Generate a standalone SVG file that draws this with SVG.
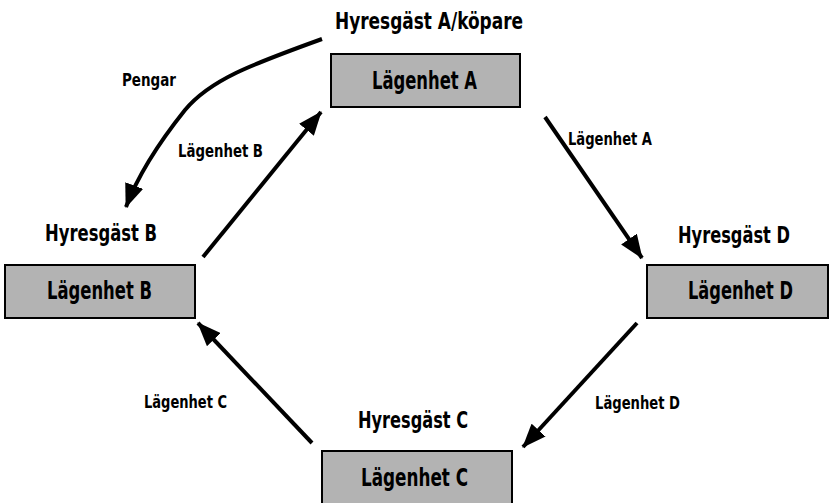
<svg xmlns="http://www.w3.org/2000/svg" width="833" height="503" viewBox="0 0 833 503">
<defs>
<style>
text{font-family:"DejaVu Sans Condensed","DejaVu Sans",sans-serif;font-weight:bold;fill:#000;font-stretch:condensed}
.t{font-size:23px}
.b{font-size:24px}
.s{font-size:17px}
.box{fill:#b3b3b3;stroke:#000;stroke-width:2}
.ln{fill:none;stroke:#000;stroke-width:4;marker-end:url(#ah)}
</style>
<marker id="ah" markerUnits="userSpaceOnUse" markerWidth="24" markerHeight="19" refX="23" refY="9.5" orient="auto" viewBox="0 0 24 19">
<path d="M0,0 L24,9.5 L0,19 z" fill="#000"/>
</marker>
</defs>
<rect width="833" height="503" fill="#fff"/>
<g id="nodeA">
<text class="t" x="335" y="29" textLength="188" lengthAdjust="spacingAndGlyphs">Hyresgäst A/köpare</text>
<rect class="box" x="331" y="54" width="189" height="53"/>
<text class="b" x="372" y="89" textLength="105" lengthAdjust="spacingAndGlyphs">Lägenhet A</text>
</g>
<g id="nodeB">
<text class="t" x="45" y="241" textLength="112" lengthAdjust="spacingAndGlyphs">Hyresgäst B</text>
<rect class="box" x="5" y="265" width="190" height="53"/>
<text class="b" x="47" y="299" textLength="105" lengthAdjust="spacingAndGlyphs">Lägenhet B</text>
</g>
<g id="nodeD">
<text class="t" x="678" y="243" textLength="112" lengthAdjust="spacingAndGlyphs">Hyresgäst D</text>
<rect class="box" x="647" y="265" width="181" height="53"/>
<text class="b" x="688" y="299" textLength="105" lengthAdjust="spacingAndGlyphs">Lägenhet D</text>
</g>
<g id="nodeC">
<text class="t" x="358" y="428" textLength="110" lengthAdjust="spacingAndGlyphs">Hyresgäst C</text>
<rect class="box" x="322" y="451" width="190" height="60"/>
<text class="b" x="361" y="486" textLength="107" lengthAdjust="spacingAndGlyphs">Lägenhet C</text>
</g>
<g id="connectors">
<path class="ln" d="M322,39 C250,65 210,80 185,110 C165,135 140,170 126,207"/>
<line class="ln" x1="203" y1="257" x2="321" y2="112"/>
<line class="ln" x1="545" y1="117" x2="642" y2="258"/>
<line class="ln" x1="637" y1="323" x2="523" y2="447"/>
<line class="ln" x1="312" y1="443" x2="198" y2="323"/>
<text class="s" x="122" y="86" textLength="54" lengthAdjust="spacingAndGlyphs">Pengar</text>
<text class="s" x="178" y="157" textLength="85" lengthAdjust="spacingAndGlyphs">Lägenhet B</text>
<text class="s" x="568" y="145" textLength="84" lengthAdjust="spacingAndGlyphs">Lägenhet A</text>
<text class="s" x="144" y="408" textLength="83" lengthAdjust="spacingAndGlyphs">Lägenhet C</text>
<text class="s" x="595" y="409" textLength="85" lengthAdjust="spacingAndGlyphs">Lägenhet D</text>
</g>
</svg>
